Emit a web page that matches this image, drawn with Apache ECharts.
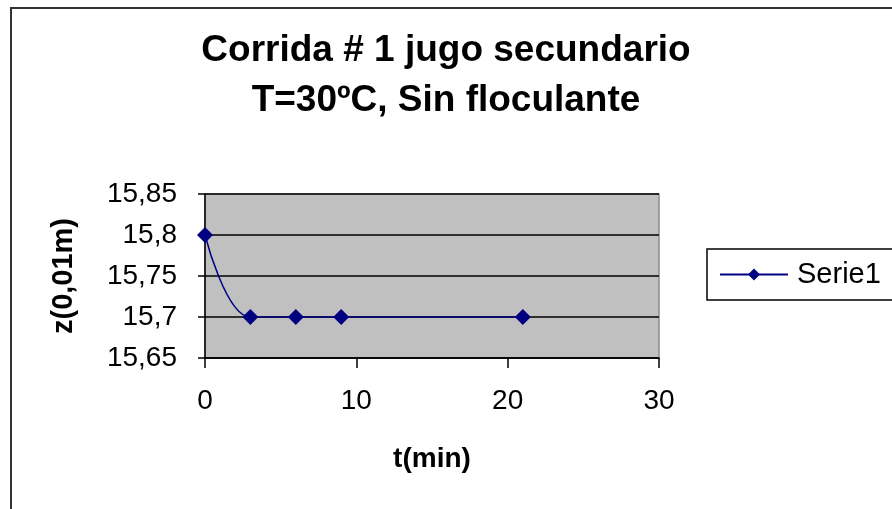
<!DOCTYPE html>
<html>
<head>
<meta charset="utf-8">
<script src="https://cdn.jsdelivr.net/npm/echarts@6/dist/echarts.min.js"></script>
<style>
html,body{margin:0;padding:0;background:#fff;}
#chart{width:892px;height:509px;}
</style>
</head>
<body>
<div id="chart"></div>
<script>
const titleLines = ['Corrida # 1 jugo secundario', 'T=30ºC, Sin floculante'];
const seriesName = 'Serie1';
const tValues = [0, 3, 6, 9, 21];
const zValues = [15.8, 15.7, 15.7, 15.7, 15.7];
const xAxisName = 't(min)';
const yAxisName = 'z(0,01m)';
const xTicks = [0, 10, 20, 30];
const yTicks = [15.65, 15.7, 15.75, 15.8, 15.85];

const FONT = '"Liberation Sans", Arial, sans-serif';
const chart = echarts.init(document.getElementById('chart'));
const points = tValues.map((t, i) => [t, zValues[i]]);
const fmt = v => parseFloat(Number(v).toFixed(2)).toString().replace('.', ',');

chart.setOption({
  backgroundColor: '#ffffff',
  animation: false,
  title: {
    text: titleLines.join('\n'),
    left: 'center',
    top: 21,
    padding: [5, 23, 5, 5],
    textStyle: {fontFamily: FONT, fontSize: 37, fontWeight: 'bold', color: '#000', lineHeight: 50}
  },
  graphic: [{
    type: 'rect',
    shape: {x: 11, y: 8, width: 1000, height: 600},
    style: {fill: 'none', stroke: '#333', lineWidth: 2},
    silent: true,
    z: -1
  }],
  legend: {
    data: [seriesName],
    left: 707,
    top: 249,
    orient: 'vertical',
    padding: [11, 40, 11, 12],
    borderColor: '#000',
    borderWidth: 1.5,
    itemWidth: 68,
    itemHeight: 15,
    itemGap: 10,
    textStyle: {fontFamily: FONT, fontSize: 29, color: '#000', padding: [0, 0, 0, 4]}
  },
  grid: {
    left: 205, right: 233, top: 194, bottom: 151,
    show: true,
    backgroundColor: '#c0c0c0',
    borderColor: '#8c8c8c',
    borderWidth: 1.5
  },
  xAxis: {
    type: 'value',
    min: xTicks[0],
    max: xTicks[xTicks.length - 1],
    interval: 10,
    name: xAxisName,
    nameLocation: 'middle',
    nameGap: 87,
    nameTextStyle: {fontFamily: FONT, fontSize: 28, fontWeight: 'bold', color: '#000'},
    axisLine: {show: true, lineStyle: {color: '#000', width: 1.5}},
    axisTick: {show: true, length: 10, inside: false, lineStyle: {color: '#000', width: 1.5}},
    axisLabel: {fontFamily: FONT, fontSize: 28, color: '#000', margin: 29},
    splitLine: {show: false}
  },
  yAxis: {
    type: 'value',
    min: yTicks[0],
    max: yTicks[yTicks.length - 1],
    interval: 0.05,
    name: yAxisName,
    nameLocation: 'middle',
    nameRotate: 90,
    nameGap: 127,
    nameTextStyle: {fontFamily: FONT, fontSize: 29, fontWeight: 'bold', color: '#000'},
    axisLine: {show: true, lineStyle: {color: '#000', width: 1.5}},
    axisTick: {show: true, length: 7, inside: false, lineStyle: {color: '#000', width: 1.5}},
    axisLabel: {fontFamily: FONT, fontSize: 28, color: '#000', margin: 28, formatter: fmt},
    splitLine: {show: true, lineStyle: {color: '#000', width: 1.5}}
  },
  series: [{
    name: seriesName,
    type: 'line',
    data: points,
    smooth: 0.4,
    symbol: 'diamond',
    symbolSize: 16,
    itemStyle: {color: '#000080'},
    lineStyle: {color: '#000080', width: 1.5}
  }]
});
</script>
</body>
</html>
